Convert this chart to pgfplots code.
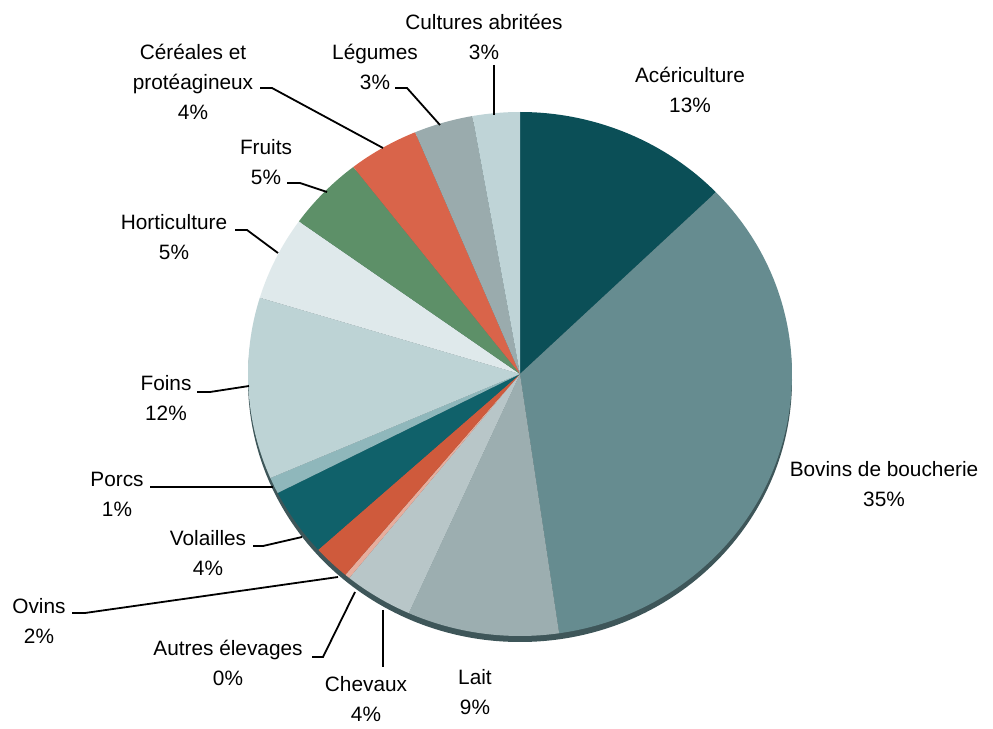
\documentclass[border=0pt]{standalone}
\usepackage{pgfplots}
\pgfplotsset{compat=1.18}
\usepackage{pgfplotstable}
\usepackage{fontspec}
\setmainfont{Liberation Sans}

\definecolor{cAcer}{HTML}{0B4F57}
\definecolor{cBov}{HTML}{668C90}
\definecolor{cLait}{HTML}{9CAEB0}
\definecolor{cChev}{HTML}{B8C6C8}
\definecolor{cAutr}{HTML}{E6AE9E}
\definecolor{cOvin}{HTML}{CF5A3C}
\definecolor{cVola}{HTML}{10616A}
\definecolor{cPorc}{HTML}{8FB7BB}
\definecolor{cFoin}{HTML}{BDD3D5}
\definecolor{cHort}{HTML}{DFE9EB}
\definecolor{cFrui}{HTML}{5D9068}
\definecolor{cCere}{HTML}{D9644A}
\definecolor{cLegu}{HTML}{9AABAD}
\definecolor{cCult}{HTML}{BFD4D7}
\definecolor{cShadow}{HTML}{3E5659}

\pgfplotstableread{
value color
12.8 cAcer
34.9 cBov
9.0 cLait
4.1 cChev
0.3 cAutr
2.2 cOvin
4.2 cVola
1.0 cPorc
11.2 cFoin
5.2 cHort
4.6 cFrui
4.2 cCere
3.5 cLegu
2.8 cCult
}\piedata

\newcommand\lbl{\fontsize{10.4}{15}\selectfont}

\begin{document}
\begin{tikzpicture}
\begin{axis}[x=0.5pt,y=0.5pt,xmin=0,xmax=993,ymin=0,ymax=724,
  y dir=reverse,hide axis,clip=false]
\path (axis cs:0,0) rectangle (axis cs:993,724);
\pgfplotsextra{
  \fill[cShadow] (axis cs:520,380) ellipse [x radius=136pt, y radius=131pt];
  \pgfplotstablegetrowsof{\piedata}
  \pgfmathtruncatemacro\nrows{\pgfplotsretval-1}
  \gdef\cum{0}
  \foreach \i in {0,...,\nrows}{
    \pgfplotstablegetelem{\i}{value}\of\piedata \let\val\pgfplotsretval
    \pgfplotstablegetelem{\i}{color}\of\piedata \let\slicecol\pgfplotsretval
    \pgfmathsetmacro\sa{90-3.6*\cum}
    \pgfmathsetmacro\ea{90-3.6*(\cum+\val)}
    \fill[fill=\slicecol] (axis cs:520,374) -- (axis cs:{520+272*cos(\sa)},{374-262*sin(\sa)})
      arc[start angle=\sa,end angle=\ea,x radius=136pt,y radius=131pt] -- cycle;
    \pgfmathsetmacro\newcum{\cum+\val}
    \xdef\cum{\newcum}
  }
}
% leader lines
\draw[line width=0.9pt] (axis cs:494,65) -- (axis cs:494,115);
\draw[line width=0.9pt] (axis cs:395,88) -- (axis cs:407,88) -- (axis cs:440,125);
\draw[line width=0.9pt] (axis cs:260,88) -- (axis cs:272,88) -- (axis cs:383,148);
\draw[line width=0.9pt] (axis cs:287,183) -- (axis cs:300,183) -- (axis cs:327,192);
\draw[line width=0.9pt] (axis cs:235,230) -- (axis cs:247,230) -- (axis cs:278,253);
\draw[line width=0.9pt] (axis cs:197,392) -- (axis cs:210,392) -- (axis cs:249,386);
\draw[line width=0.9pt] (axis cs:150,487) -- (axis cs:273,487);
\draw[line width=0.9pt] (axis cs:253,546) -- (axis cs:263,546) -- (axis cs:302,537);
\draw[line width=0.9pt] (axis cs:72,613) -- (axis cs:85,613) -- (axis cs:338,577);
\draw[line width=0.9pt] (axis cs:312,657) -- (axis cs:323,657) -- (axis cs:355,592);
\draw[line width=0.9pt] (axis cs:383,610) -- (axis cs:383,667);
% labels
\node[align=center,font=\lbl] at (axis cs:690,90) {Acériculture\\13\%};
\node[align=center,font=\lbl] at (axis cs:484,37) {Cultures abritées\\3\%};
\node[align=center,font=\lbl] at (axis cs:375,67) {Légumes\\3\%};
\node[align=center,font=\lbl] at (axis cs:193,82) {Céréales et\\protéagineux\\4\%};
\node[align=center,font=\lbl] at (axis cs:266,162) {Fruits\\5\%};
\node[align=center,font=\lbl] at (axis cs:174,237) {Horticulture\\5\%};
\node[align=center,font=\lbl] at (axis cs:166,398) {Foins\\12\%};
\node[align=center,font=\lbl] at (axis cs:117,494) {Porcs\\1\%};
\node[align=center,font=\lbl] at (axis cs:208,553) {Volailles\\4\%};
\node[align=center,font=\lbl] at (axis cs:39,621) {Ovins\\2\%};
\node[align=center,font=\lbl] at (axis cs:228,663) {Autres élevages\\0\%};
\node[align=center,font=\lbl] at (axis cs:366,699) {Chevaux\\4\%};
\node[align=center,font=\lbl] at (axis cs:475,692) {Lait\\9\%};
\node[align=center,font=\lbl] at (axis cs:884,484) {Bovins de boucherie\\35\%};
\end{axis}
\end{tikzpicture}
\end{document}
